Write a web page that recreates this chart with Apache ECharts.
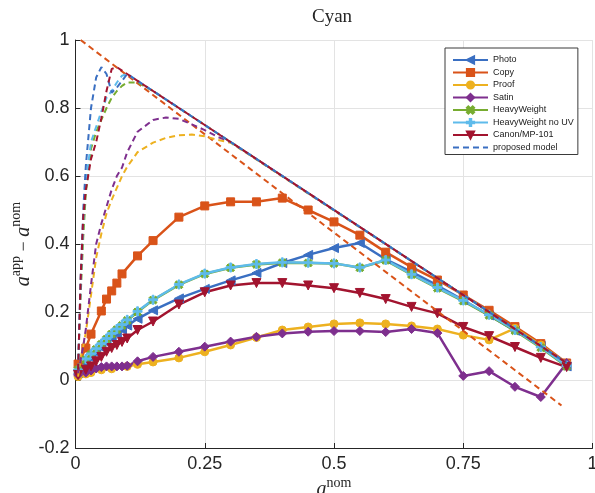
<!DOCTYPE html>
<html>
<head>
<meta charset="utf-8">
<script src="https://cdn.jsdelivr.net/npm/echarts@6/dist/echarts.min.js"></script>
<style>
  html, body { margin: 0; padding: 0; background: #fff; }
  #chart { width: 595px; height: 493px; }
</style>
</head>
<body>
<div id="chart"></div>
<script>
// Nominal coverage values at which the measured series were sampled
const xNom = [0.005, 0.02, 0.03, 0.04, 0.05, 0.06, 0.07, 0.08, 0.09, 0.1, 0.12, 0.15,
  0.2, 0.25, 0.3, 0.35, 0.4, 0.45, 0.5, 0.55, 0.6, 0.65, 0.7, 0.75, 0.8, 0.85, 0.9, 0.95];

// Measured a_app - a_nom per substrate (null = no sample)
const photo = [0.02, 0.05, 0.065, 0.08, 0.095, 0.11, 0.122, 0.135, 0.148, 0.16, 0.18, 0.205,
  0.24, 0.268, 0.293, 0.315, 0.344, 0.368, 0.388, 0.403, 0.355, 0.318, 0.278, 0.235, 0.19, 0.145, 0.1, 0.04];
const copy = [0.047, 0.094, 0.135, null, 0.203, 0.238, 0.262, 0.285, 0.312, null, 0.365, 0.41,
  0.479, 0.512, 0.524, 0.524, 0.535, 0.5, 0.465, 0.426, 0.376, 0.332, 0.294, 0.25, 0.205, 0.157, 0.107, 0.05];
const proof = [0.01, 0.018, 0.022, null, 0.03, null, 0.033, null, null, 0.04, 0.046, 0.053,
  0.065, 0.083, 0.103, 0.125, 0.147, 0.156, 0.165, 0.168, 0.165, 0.159, 0.15, 0.132, 0.118, 0.152, 0.103, 0.048];
const satin = [0.015, 0.022, 0.028, 0.034, 0.038, 0.04, 0.04, 0.04, 0.04, 0.042, 0.055, 0.068,
  0.083, 0.098, 0.113, 0.127, 0.137, 0.142, 0.144, 0.144, 0.141, 0.15, 0.138, 0.012, 0.026, -0.02, -0.05, 0.05];
const heavy = [0.03, 0.06, 0.075, 0.09, 0.105, 0.12, 0.135, 0.148, 0.16, 0.175, 0.2, 0.235,
  0.28, 0.312, 0.33, 0.34, 0.345, 0.344, 0.343, 0.33, 0.352, 0.31, 0.27, 0.232, 0.19, 0.145, 0.095, 0.04];
const heavyNoUV = [0.03, 0.062, 0.077, 0.092, 0.107, 0.122, 0.137, 0.15, 0.163, 0.177, 0.202, 0.236,
  0.281, 0.313, 0.331, 0.341, 0.346, 0.345, 0.343, 0.331, 0.353, 0.311, 0.272, 0.234, 0.192, 0.147, 0.097, 0.042];
const canon = [0.015, 0.03, 0.04, 0.055, 0.068, 0.083, 0.094, 0.103, 0.112, 0.122, 0.147, 0.172,
  0.222, 0.258, 0.278, 0.285, 0.285, 0.278, 0.27, 0.256, 0.238, 0.215, 0.196, 0.156, 0.129, 0.097, 0.065, 0.038];

// Model curves
const xModel = [0.005, 0.01, 0.015, 0.02, 0.03, 0.04, 0.05, 0.06, 0.07, 0.08, 0.09, 0.1,
  0.12, 0.15, 0.175, 0.2, 0.225, 0.25, 0.275, 0.3, 0.95];
const modelPhoto = [0.03, 0.3, 0.5, 0.63, 0.8, 0.89, 0.92, 0.9, 0.845, 0.86, 0.88, 0.9,
  0.88, 0.85, 0.825, 0.8, 0.775, 0.75, 0.725, 0.7, 0.05];
const modelProof = [0.01, 0.065, 0.1, 0.14, 0.25, 0.36, 0.43, 0.49, 0.53, 0.565, 0.6, 0.627,
  0.67, 0.698, 0.712, 0.72, 0.722, 0.717, 0.706, 0.698, 0.05];
const modelSatin = [0.02, 0.06, 0.1, 0.15, 0.28, 0.4, 0.46, 0.51, 0.56, 0.6, 0.625, 0.67,
  0.73, 0.765, 0.772, 0.768, 0.752, 0.735, 0.715, 0.7, 0.05];
const modelHeavy = [0.03, 0.25, 0.42, 0.55, 0.68, 0.73, 0.765, 0.8, 0.83, 0.85, 0.865, 0.875,
  0.875, 0.85, 0.825, 0.8, 0.775, 0.75, 0.725, 0.7, 0.05];
const modelNoUV = [0.03, 0.28, 0.46, 0.58, 0.7, 0.745, 0.79, 0.83, 0.85, 0.875, 0.895, 0.9,
  0.88, 0.85, 0.825, 0.8, 0.775, 0.75, 0.725, 0.7, 0.05];
const modelCanon = [0.03, 0.3, 0.48, 0.56, 0.65, 0.7, 0.77, 0.85, 0.915, 0.92, 0.91, 0.9,
  0.88, 0.85, 0.825, 0.8, 0.775, 0.75, 0.725, 0.7, 0.05];
const xCopyModel = [0.01, 0.94];
const modelCopy = [1.0, -0.075];

const xTicks = [0, 0.25, 0.5, 0.75, 1];
const yTicks = [-0.2, 0, 0.2, 0.4, 0.6, 0.8, 1];

const C = {
  photo: '#3A6FC2', copy: '#D95319', proof: '#EDB120', satin: '#7E2F8E',
  heavy: '#77AC30', noUV: '#5EBBEB', canon: '#A2142F'
};

function pts(xs, ys) {
  return xs.map((x, i) => [x, ys[i]]).filter(p => p[1] !== null);
}

const X_SHAPE = 'path://M2,0 L5,3 L8,0 L10,2 L7,5 L10,8 L8,10 L5,7 L2,10 L0,8 L3,5 L0,2 Z';
const PLUS_SHAPE = 'path://M4,0 L6,0 L6,4 L10,4 L10,6 L6,6 L6,10 L4,10 L4,6 L0,6 L0,4 L4,4 Z';

function measured(name, ys, color, symbol, size, rot) {
  return {
    name, type: 'line', data: pts(xNom, ys),
    symbol, symbolSize: size, symbolRotate: rot || 0,
    lineStyle: { color, width: 2.5 },
    itemStyle: { color, borderColor: color, borderWidth: 1 },
    emphasis: { disabled: true }, animation: false, z: 2
  };
}
function model(name, xs, ys, color) {
  return {
    name, type: 'line', data: pts(xs, ys), symbol: 'none',
    lineStyle: { color, width: 2, type: [6, 4] },
    itemStyle: { color },
    emphasis: { disabled: true }, animation: false, z: 3
  };
}

const axisFont = { fontFamily: 'Liberation Sans', fontSize: 18, color: '#262626' };
const serif = 'Liberation Serif';

const option = {
  backgroundColor: '#fff',
  title: {
    text: 'Cyan', left: 307, top: 3,
    textStyle: { fontFamily: serif, fontSize: 19, fontWeight: 'normal', color: '#262626' }
  },
  grid: { left: 75.5, right: 2.5, top: 40, bottom: 45, containLabel: false, outerBoundsMode: 'none' },
  xAxis: {
    type: 'value', min: xTicks[0], max: xTicks[xTicks.length - 1], interval: 0.25,
    axisLine: { onZero: false, lineStyle: { color: '#262626', width: 1 } },
    axisTick: { inside: true, length: 5, lineStyle: { color: '#262626' } },
    axisLabel: Object.assign({ margin: 7 }, axisFont),
    splitLine: { show: true, lineStyle: { color: '#e3e3e3', width: 1 } },
    name: '{a|a}{s|nom}', nameLocation: 'middle', nameGap: 28, nameMoveOverlap: false,
    nameTextStyle: {
      rich: {
        a: { fontFamily: serif, fontStyle: 'italic', fontSize: 20, color: '#262626', verticalAlign: 'bottom', lineHeight: 24 },
        s: { fontFamily: serif, fontSize: 14, color: '#262626', verticalAlign: 'top', lineHeight: 14 }
      }
    }
  },
  yAxis: {
    type: 'value', min: yTicks[0], max: yTicks[yTicks.length - 1], interval: 0.2,
    axisLine: { show: true, onZero: false, lineStyle: { color: '#262626', width: 1 } },
    axisTick: { show: true, inside: true, length: 5, lineStyle: { color: '#262626' } },
    axisLabel: Object.assign({ margin: 6 }, axisFont),
    splitLine: { show: true, lineStyle: { color: '#e3e3e3', width: 1 } },
    name: '{a|a}{s|app}{m| − }{a|a}{s|nom}', nameLocation: 'middle', nameRotate: 90, nameGap: 42,
    nameMoveOverlap: false,
    nameTextStyle: {
      rich: {
        a: { fontFamily: serif, fontStyle: 'italic', fontSize: 20, color: '#262626', verticalAlign: 'bottom', lineHeight: 24 },
        m: { fontFamily: serif, fontSize: 18, color: '#262626', verticalAlign: 'bottom', lineHeight: 24 },
        s: { fontFamily: serif, fontSize: 14, color: '#262626', verticalAlign: 'top', lineHeight: 14 }
      }
    }
  },
  legend: {
    orient: 'vertical', left: 445, top: 48,
    data: ['Photo', 'Copy', 'Proof', 'Satin', 'HeavyWeight', 'HeavyWeight no UV', 'Canon/MP-101',
      { name: 'proposed model', itemStyle: { opacity: 0 } }],
    backgroundColor: '#fff', borderColor: '#3a3a3a', borderWidth: 1,
    padding: [7, 4, 2, 7], itemWidth: 35, itemHeight: 9, itemGap: 2.5,
    textStyle: { fontFamily: 'Liberation Sans', fontSize: 9, color: '#1a1a1a', lineHeight: 10 }
  },
  series: [
    measured('Photo', photo, C.photo, 'triangle', 9, 90),
    measured('Copy', copy, C.copy, 'rect', 8),
    measured('Proof', proof, C.proof, 'circle', 8),
    measured('Satin', satin, C.satin, 'diamond', 9),
    measured('HeavyWeight', heavy, C.heavy, X_SHAPE, 8),
    measured('HeavyWeight no UV', heavyNoUV, C.noUV, PLUS_SHAPE, 9),
    measured('Canon/MP-101', canon, C.canon, 'triangle', 9, 180),
    model('Copy model', xCopyModel, modelCopy, C.copy),
    model('Proof model', xModel, modelProof, C.proof),
    model('Satin model', xModel, modelSatin, C.satin),
    model('HeavyWeight model', xModel, modelHeavy, C.heavy),
    model('HeavyWeight no UV model', xModel, modelNoUV, C.noUV),
    model('proposed model', xModel, modelPhoto, C.photo),
    model('Canon model', xModel, modelCanon, C.canon)
  ]
};

const chart = echarts.init(document.getElementById('chart'), null, { renderer: 'canvas' });
chart.setOption(option);
</script>
</body>
</html>
